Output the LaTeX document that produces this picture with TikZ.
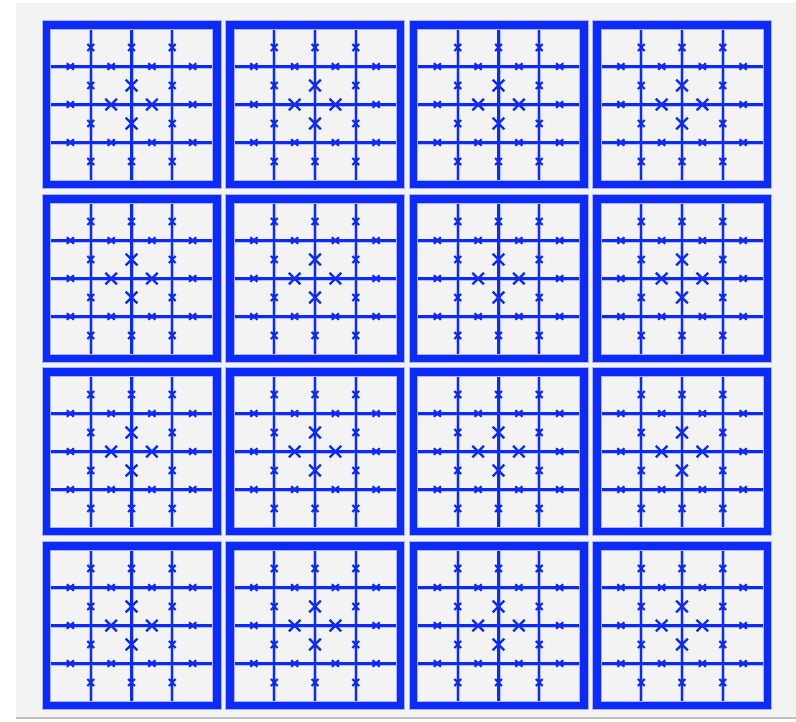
\documentclass[tikz,border=0pt]{standalone}
\definecolor{bl}{RGB}{12,42,250}
\definecolor{panel}{RGB}{243,243,243}
\definecolor{edge}{RGB}{190,190,190}
\tikzset{
  frameline/.style={draw=bl, line width=7.5pt},
  framehalo/.style={draw=bl!35, line width=9.5pt},
  gridline/.style={draw=bl, line width=2.1pt},
  gridhalo/.style={draw=bl!30, line width=4pt},
  smallmark/.style={draw=bl, line width=2.1pt},
  bigmark/.style={draw=bl, line width=2.3pt},
}
\begin{document}
\begin{tikzpicture}[x=1pt,y=-1pt]
\useasboundingbox (0,0) rectangle (796,721);
\fill[white] (0,0) rectangle (796,721);
\fill[panel] (16,3) rectangle (796,717);
\draw[edge, line width=2pt] (16,718) -- (796,718);
\foreach \x in {42.5,226,409.5,593} {
  \foreach \y in {21,195,368,542} {
    \begin{scope}[shift={(\x,\y)}]
      % grid lines (halo then line)
      \foreach \i in {1,2,3} {
        \pgfmathsetmacro{\gx}{7.5+\i*40.75}
        \pgfmathsetmacro{\gy}{7.5+\i*38}
        \draw[gridhalo] (\gx,7.5) -- (\gx,159.5);
        \draw[gridhalo] (7.5,\gy) -- (170.5,\gy);
      }
      \foreach \i in {1,2,3} {
        \pgfmathsetmacro{\gx}{7.5+\i*40.75}
        \pgfmathsetmacro{\gy}{7.5+\i*38}
        \draw[gridline] (\gx,7.5) -- (\gx,159.5);
        \draw[gridline] (7.5,\gy) -- (170.5,\gy);
      }
      % frame
      \draw[framehalo] (3.75,3.75) rectangle (174.25,163.25);
      \draw[frameline] (3.75,3.75) rectangle (174.25,163.25);
      % small markers on vertical lines
      \foreach \i/\j in {1/0,1/1,1/2,1/3,3/0,3/1,3/2,3/3,2/0,2/3} {
        \pgfmathsetmacro{\px}{7.5+\i*40.75}
        \pgfmathsetmacro{\py}{7.5+(\j+0.5)*38}
        \draw[smallmark] (\px-3.3,\py-3.5) -- (\px+3.3,\py+3.5) (\px-3.3,\py+3.5) -- (\px+3.3,\py-3.5);
      }
      % small markers on horizontal lines
      \foreach \i/\j in {1/0,1/1,1/2,1/3,3/0,3/1,3/2,3/3,2/0,2/3} {
        \pgfmathsetmacro{\py}{7.5+\i*38}
        \pgfmathsetmacro{\px}{7.5+(\j+0.5)*40.75}
        \draw[smallmark] (\px-3.5,\py-3.3) -- (\px+3.5,\py+3.3) (\px-3.5,\py+3.3) -- (\px+3.5,\py-3.3);
      }
      % large markers around the centre
      \foreach \j in {1,2} {
        \pgfmathsetmacro{\px}{7.5+2*40.75}
        \pgfmathsetmacro{\py}{7.5+(\j+0.5)*38}
        \draw[bigmark] (\px-5.8,\py-5.8) -- (\px+5.8,\py+5.8) (\px-5.8,\py+5.8) -- (\px+5.8,\py-5.8);
        \pgfmathsetmacro{\qy}{7.5+2*38}
        \pgfmathsetmacro{\qx}{7.5+(\j+0.5)*40.75}
        \draw[bigmark] (\qx-5.8,\qy-5.8) -- (\qx+5.8,\qy+5.8) (\qx-5.8,\qy+5.8) -- (\qx+5.8,\qy-5.8);
      }
    \end{scope}
  }
}
\end{tikzpicture}
\end{document}
